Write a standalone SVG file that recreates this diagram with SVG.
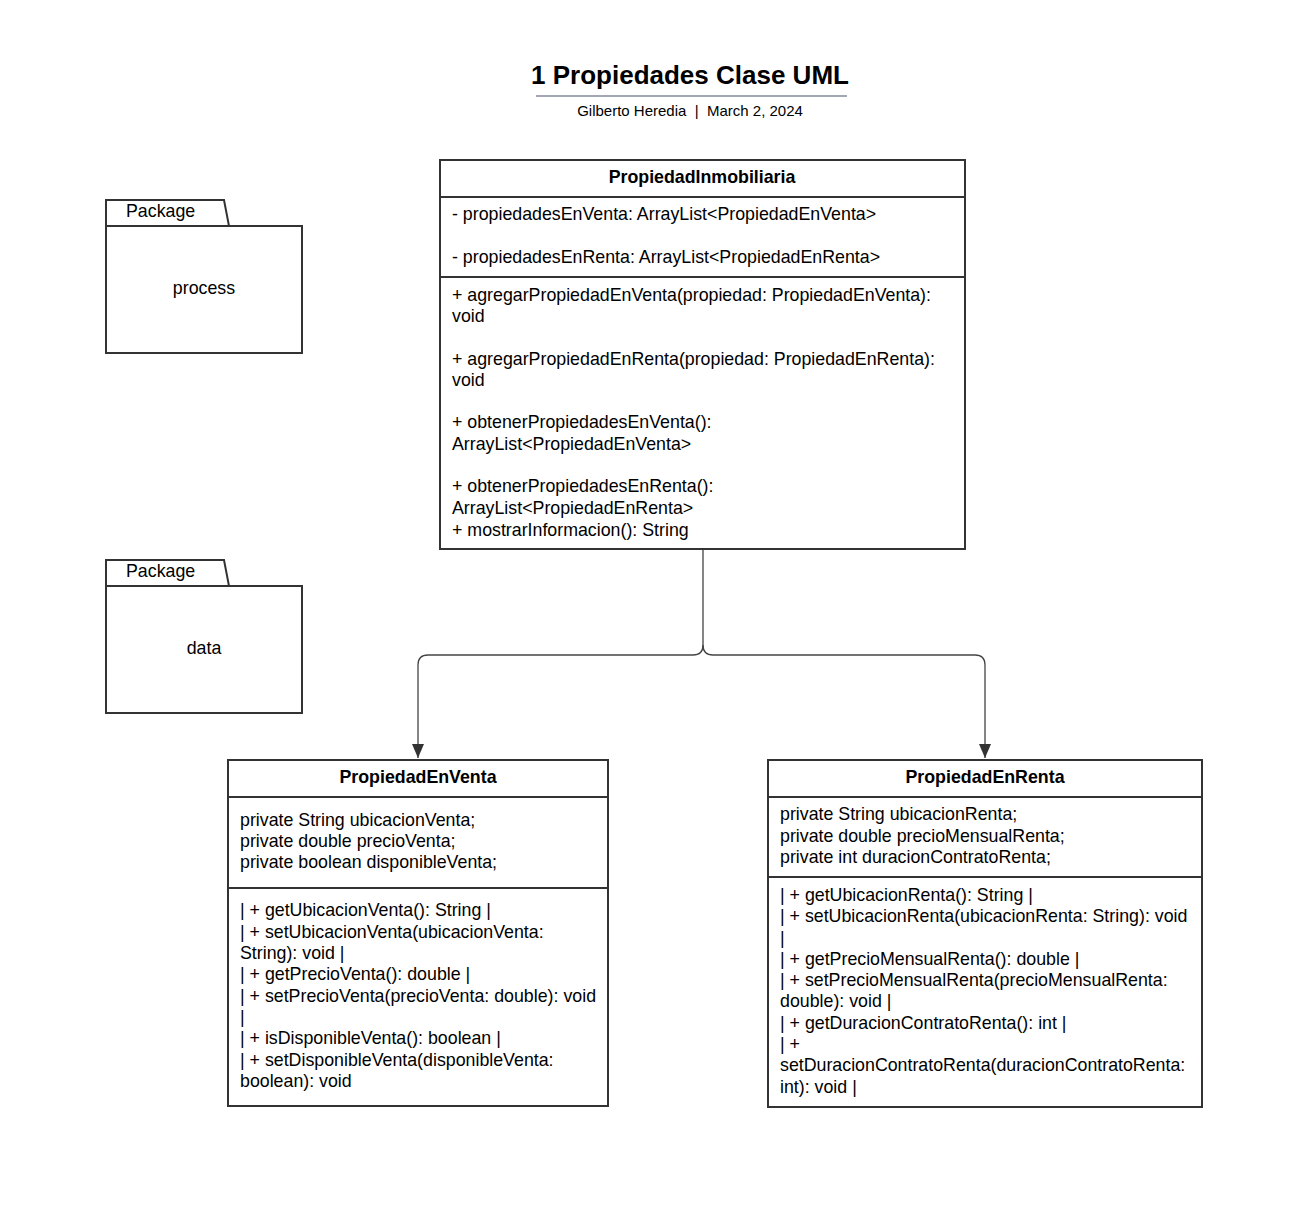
<svg xmlns="http://www.w3.org/2000/svg" width="1309" height="1218" viewBox="0 0 1309 1218">
<defs>
<style>
text{font-family:"Liberation Sans",Arial,sans-serif;fill:#000}
.t{font-size:17.8px}
.b{font-size:17.8px;font-weight:bold;text-anchor:middle}
.box{fill:#fff;stroke:#333;stroke-width:2}
.ln{stroke:#333;stroke-width:2}
.con{fill:none;stroke:#444;stroke-width:1.3}
</style>
<marker id="arr" markerWidth="15" markerHeight="12" refX="14" refY="6" orient="auto" markerUnits="userSpaceOnUse" viewBox="0 0 15 12">
<path d="M0,0 L14,6 L0,12 Z" fill="#333"/>
</marker>
</defs>
<rect width="1309" height="1218" fill="#fff"/>
<g id="title">
<text x="690" y="84" style="font-size:26px;font-weight:bold;text-anchor:middle">1 Propiedades Clase UML</text>
<line x1="536" y1="96" x2="847" y2="96" stroke="#a3a7b2" stroke-width="2"/>
<text x="690" y="116" style="font-size:15px;text-anchor:middle;white-space:pre" xml:space="preserve">Gilberto Heredia  |  March 2, 2024</text>
</g>
<g id="pkg-process">
<path class="box" d="M106,226 L106,200 L224,200 L229,226 Z"/>
<rect class="box" x="106" y="226" width="196" height="127"/>
<text x="126" y="217" class="t">Package</text>
<text x="204" y="294" class="t" text-anchor="middle">process</text>
</g>
<g id="pkg-data">
<path class="box" d="M106,586 L106,560 L224,560 L229,586 Z"/>
<rect class="box" x="106" y="586" width="196" height="127"/>
<text x="126" y="577" class="t">Package</text>
<text x="204" y="654" class="t" text-anchor="middle">data</text>
</g>
<g id="connectors">
<path class="con" d="M703,549 L703,645 Q703,655 693,655 L428,655 Q418,655 418,665 L418,758" marker-end="url(#arr)"/>
<path class="con" d="M703,645 Q703,655 713,655 L975,655 Q985,655 985,665 L985,758" marker-end="url(#arr)"/>
</g>
<g id="PropiedadInmobiliaria">
<rect class="box" x="440" y="160" width="525" height="389"/>
<line class="ln" x1="440" y1="197" x2="965" y2="197"/>
<line class="ln" x1="440" y1="277" x2="965" y2="277"/>
<text x="702" y="183" class="b">PropiedadInmobiliaria</text>
<text x="452" y="220" class="t">- propiedadesEnVenta: ArrayList&lt;PropiedadEnVenta&gt;</text>
<text x="452" y="263" class="t">- propiedadesEnRenta: ArrayList&lt;PropiedadEnRenta&gt;</text>
<text x="452" y="301" class="t">+ agregarPropiedadEnVenta(propiedad: PropiedadEnVenta):</text>
<text x="452" y="322" class="t">void</text>
<text x="452" y="365" class="t">+ agregarPropiedadEnRenta(propiedad: PropiedadEnRenta):</text>
<text x="452" y="386" class="t">void</text>
<text x="452" y="428" class="t">+ obtenerPropiedadesEnVenta():</text>
<text x="452" y="450" class="t">ArrayList&lt;PropiedadEnVenta&gt;</text>
<text x="452" y="492" class="t">+ obtenerPropiedadesEnRenta():</text>
<text x="452" y="514" class="t">ArrayList&lt;PropiedadEnRenta&gt;</text>
<text x="452" y="536" class="t">+ mostrarInformacion(): String</text>
</g>
<g id="PropiedadEnVenta">
<rect class="box" x="228" y="760" width="380" height="346"/>
<line class="ln" x1="228" y1="797" x2="608" y2="797"/>
<line class="ln" x1="228" y1="888" x2="608" y2="888"/>
<text x="418" y="783" class="b">PropiedadEnVenta</text>
<text x="240" y="826" class="t">private String ubicacionVenta;</text>
<text x="240" y="847" class="t">private double precioVenta;</text>
<text x="240" y="868" class="t">private boolean disponibleVenta;</text>
<text x="240" y="916" class="t">| + getUbicacionVenta(): String |</text>
<text x="240" y="938" class="t">| + setUbicacionVenta(ubicacionVenta:</text>
<text x="240" y="959" class="t">String): void |</text>
<text x="240" y="980" class="t">| + getPrecioVenta(): double |</text>
<text x="240" y="1002" class="t">| + setPrecioVenta(precioVenta: double): void</text>
<text x="240" y="1023" class="t">|</text>
<text x="240" y="1044" class="t">| + isDisponibleVenta(): boolean |</text>
<text x="240" y="1066" class="t">| + setDisponibleVenta(disponibleVenta:</text>
<text x="240" y="1087" class="t">boolean): void</text>
</g>
<g id="PropiedadEnRenta">
<rect class="box" x="768" y="760" width="434" height="347"/>
<line class="ln" x1="768" y1="797" x2="1202" y2="797"/>
<line class="ln" x1="768" y1="877" x2="1202" y2="877"/>
<text x="985" y="783" class="b">PropiedadEnRenta</text>
<text x="780" y="820" class="t">private String ubicacionRenta;</text>
<text x="780" y="842" class="t">private double precioMensualRenta;</text>
<text x="780" y="863" class="t">private int duracionContratoRenta;</text>
<text x="780" y="901" class="t">| + getUbicacionRenta(): String |</text>
<text x="780" y="922" class="t">| + setUbicacionRenta(ubicacionRenta: String): void</text>
<text x="780" y="944" class="t">|</text>
<text x="780" y="965" class="t">| + getPrecioMensualRenta(): double |</text>
<text x="780" y="986" class="t">| + setPrecioMensualRenta(precioMensualRenta:</text>
<text x="780" y="1007" class="t">double): void |</text>
<text x="780" y="1029" class="t">| + getDuracionContratoRenta(): int |</text>
<text x="780" y="1050" class="t">| +</text>
<text x="780" y="1071" class="t">setDuracionContratoRenta(duracionContratoRenta:</text>
<text x="780" y="1093" class="t">int): void |</text>
</g>
</svg>
